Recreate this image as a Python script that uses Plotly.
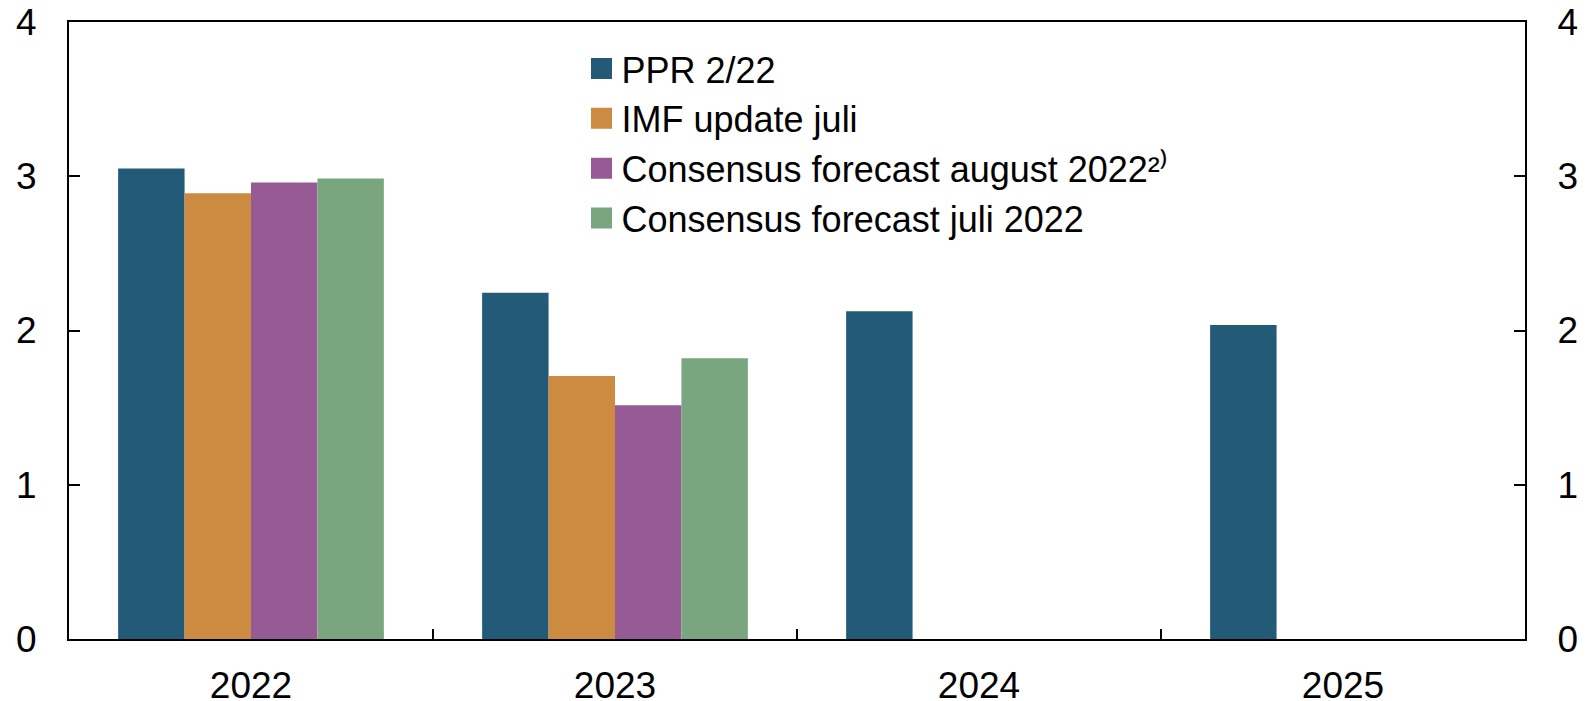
import plotly.graph_objects as go

categories = ["2022", "2023", "2024", "2025"]
series_names = ["PPR 2/22", "IMF update juli", "Consensus forecast august 2022²⁾", "Consensus forecast juli 2022"]
ppr = [3.05, 2.245, 2.125, 2.035]
imf = [2.89, 1.705, None, None]
cons_aug = [2.96, 1.515, None, None]
cons_jul = [2.985, 1.82, None, None]
colors = ["#235a78", "#cd8b42", "#965b94", "#79a67e"]
yticks = [0, 1, 2, 3, 4]

FONT = "Liberation Sans, Arial, sans-serif"
fig = go.Figure()
for name, vals, col in zip(series_names, [ppr, imf, cons_aug, cons_jul], colors):
    fig.add_trace(go.Bar(x=categories, y=vals, name=name, marker=dict(color=col, line=dict(width=0)),
                         showlegend=False))
# legend entries with larger square symbols
for i, (name, col) in enumerate(zip(series_names, colors)):
    fig.add_trace(go.Scatter(x=[None], y=[None], mode="markers", name=name, legendgroup=str(i),
                             marker=dict(symbol="square", size=16, color=col,
                                         line=dict(width=5, color=col))))

fig.add_trace(go.Scatter(x=[None], y=[None], yaxis="y2", showlegend=False, hoverinfo="skip"))

fig.update_layout(
    width=1579, height=693,
    margin=dict(l=61, r=62, t=13.5, b=62, autoexpand=False),
    paper_bgcolor="white", plot_bgcolor="white",
    barmode="group", bargap=0.27, bargroupgap=0,
    font=dict(family=FONT, size=37, color="black"),
    showlegend=True,
    legend=dict(x=0.352, xanchor="left", y=0.973, yanchor="top", bgcolor="rgba(0,0,0,0)",
                font=dict(size=36, family=FONT), traceorder="normal", itemwidth=30,
                tracegroupgap=0),
    xaxis=dict(type="category", showline=True, linecolor="black", linewidth=2, mirror=True,
               ticks="inside", tickson="boundaries", ticklen=10, tickwidth=1.5, tickcolor="black",
               showgrid=False, zeroline=False, ticklabelstandoff=13, automargin=False,
               ticklabeloverflow="allow", tickfont=dict(size=37, family=FONT)),
    yaxis=dict(range=[0, 4], tickvals=yticks, showline=True, linecolor="black", linewidth=2,
               ticks="inside", ticklen=11, tickwidth=1.5, tickcolor="black", showgrid=False,
               zeroline=False, ticklabelstandoff=23, automargin=False, ticklabeloverflow="allow",
               tickfont=dict(size=37, family=FONT)),
    yaxis2=dict(range=[0, 4], tickvals=yticks, overlaying="y", side="right", showline=True,
                linecolor="black", linewidth=2, ticks="inside", ticklen=11, tickwidth=1.5,
                tickcolor="black", showgrid=False, zeroline=False, ticklabelstandoff=23,
                automargin=False, ticklabeloverflow="allow", tickfont=dict(size=37, family=FONT)),
)
fig.write_html("out.html")
